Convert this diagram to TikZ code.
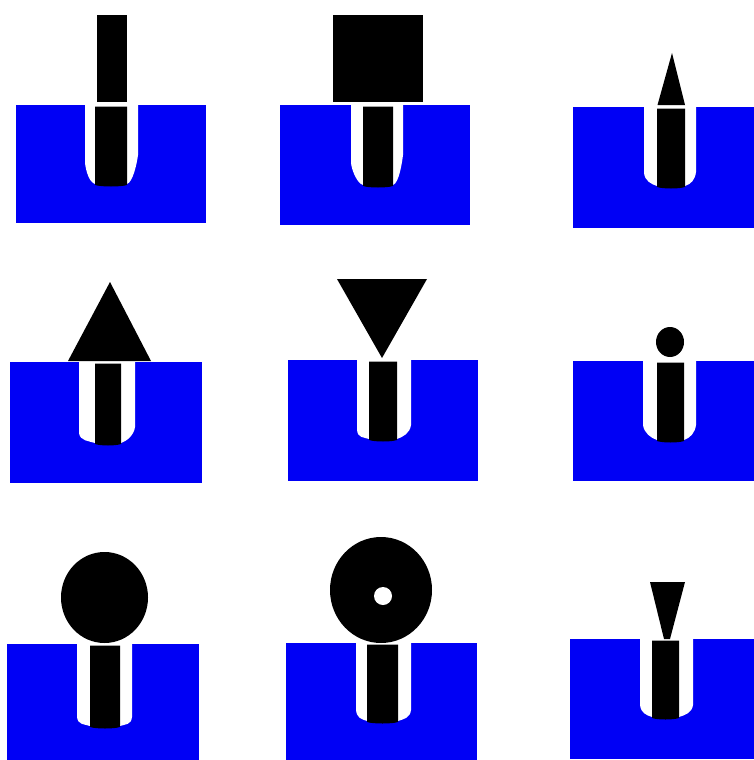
\documentclass[tikz,border=0pt]{standalone}
\usepackage{xcolor}
\usetikzlibrary{calc}
\definecolor{bodyBlue}{RGB}{0,0,245}
\begin{document}
\begin{tikzpicture}[
    x=1pt, y=-1pt,
    % Blue work piece
    bodyB/.style={fill=bodyBlue, draw=none},
    % White drilled slot
    slotW/.style={fill=white, draw=none},
    % Black pin and heads
    toolK/.style={fill=black, draw=none}
]
\useasboundingbox (0,0) rectangle (754,760);
% ── Blocks: left/top/right/bottom, slot, pin, shoulders, slot bottom ────
\foreach \xa/\ya/\xb/\yb/\sl/\sr/\pl/\pr/\shl/\shr/\bt in {
    16/105/206/223/85/138/95/127/163/155/187,
    280/105/470/225/351/403/363/393/163/155/188,
    573/107/754/228/644/696/657/685/173/172/189,
    10/362/202/483/79/135/95/121/433/427/446,
    288/360/478/481/357/411/369/397/430/425/442,
    573/361/754/481/643/696/657/684/425/425/443,
    7/644/199/760/77/132/90/120/717/717/729,
    286/643/477/760/356/411/367/398/710/710/724,
    570/639/754/759/640/693/652/679/705/705/720} {
    \fill[bodyB] (\xa,\ya) rectangle (\xb,\yb);
    \fill[slotW] (\sl,\ya-1) -- (\sl,\shl)
        .. controls (\sl+1,\shl+8) and (\pl-6,\bt-5) .. (\pl,\bt-3)
        -- (\pr,\bt-3)
        .. controls (\pr+6,\bt-5) and (\sr-1,\shr+8) .. (\sr,\shr)
        -- (\sr,\ya-1) -- cycle;
    \fill[toolK] (\pl,\ya+1.5) -- (\pl,\bt-2)
        .. controls (\pl+6,\bt) and (\pr-6,\bt) .. (\pr,\bt-2)
        -- (\pr,\ya+1.5) -- cycle;
}
% ── Top row heads ────────────────────────────────────────────
\fill[toolK] (97,15) rectangle (127,102);
\fill[toolK] (333,15) rectangle (423,102);
\fill[toolK] (672,53) -- (685,105) -- (657.5,105) -- cycle;
% ── Middle row heads ─────────────────────────────────────────
\fill[toolK] (110,282) -- (151,361) -- (68,361) -- cycle;
\fill[toolK] (337,279) -- (427,279) -- (382,358) -- cycle;
\fill[toolK] (670,342) ellipse (14 and 15);
% ── Bottom row heads ─────────────────────────────────────────
\fill[toolK] (104.5,597.5) ellipse (43.5 and 45.5);
\fill[toolK] (381,590) ellipse (51 and 53);
\fill[slotW] (383,596) circle (9);
\fill[toolK] (650,582) -- (685,582) -- (670,639) -- (664,639) -- cycle;
\end{tikzpicture}
\end{document}
